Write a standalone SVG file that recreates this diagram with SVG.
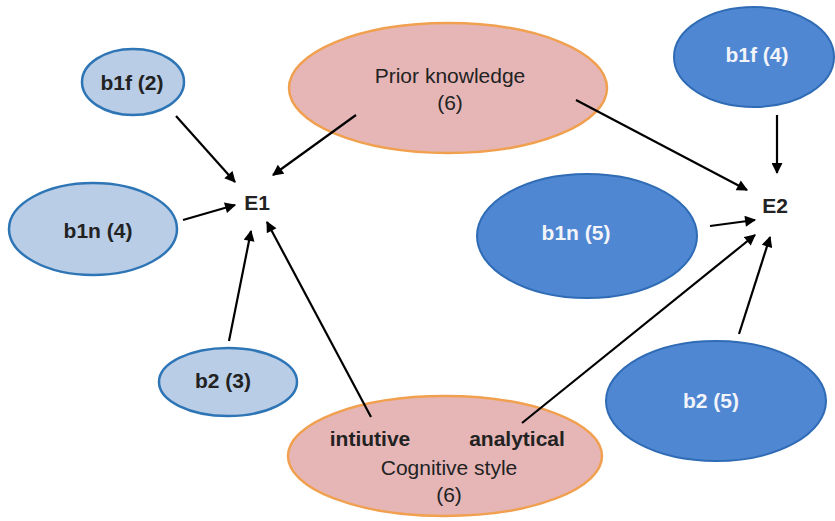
<svg xmlns="http://www.w3.org/2000/svg" width="835" height="521" viewBox="0 0 835 521">
<style>
text{font-family:"Liberation Sans",Arial,sans-serif;font-size:21px;text-anchor:middle}
.b{font-weight:bold}
.light{fill:#b9cde6;stroke:#2e75b6;stroke-width:2.5}
.dark{fill:#4f87d3;stroke:#2f6cb5;stroke-width:2}
.pink{fill:#e6b6b7;stroke:#f0a04e;stroke-width:2.5}
.wt{fill:#f2f4fa}
.dt{fill:#222}
.c line{stroke:#000;stroke-width:2.2;marker-end:url(#ah)}
</style>
<defs>
<marker id="ah" viewBox="0 0 10 10" refX="9" refY="5" markerWidth="5.5" markerHeight="5" orient="auto" markerUnits="strokeWidth">
<path d="M0,0 L10,5 L0,10 z" fill="#000"/>
</marker>
</defs>
<rect width="835" height="521" fill="#fff"/>
<g id="prior"><ellipse class="pink" cx="448" cy="88" rx="159" ry="65"/><text class="dt" x="450" y="83">Prior knowledge</text><text class="dt" x="450" y="110">(6)</text></g>
<g id="cog"><ellipse class="pink" cx="445" cy="456" rx="157" ry="60"/><text class="b dt" x="370" y="446">intiutive</text><text class="b dt" x="517" y="446">analytical</text><text class="dt" x="449" y="475">Cognitive style</text><text class="dt" x="449" y="502">(6)</text></g>
<g id="b1f2"><ellipse class="light" cx="133" cy="82" rx="51" ry="33"/><text class="b dt" x="132" y="90">b1f (2)</text></g>
<g id="b1n4"><ellipse class="light" cx="93" cy="229" rx="84" ry="46"/><text class="b dt" x="98" y="238">b1n (4)</text></g>
<g id="b23"><ellipse class="light" cx="228" cy="382" rx="69" ry="34"/><text class="b dt" x="223" y="388">b2 (3)</text></g>
<g id="e1"><text class="b dt" x="257" y="210">E1</text></g>
<g id="b1f4"><ellipse class="dark" cx="754" cy="57" rx="80" ry="50"/><text class="b wt" x="757" y="62">b1f (4)</text></g>
<g id="b1n5"><ellipse class="dark" cx="587" cy="236" rx="110" ry="62"/><text class="b wt" x="576" y="240">b1n (5)</text></g>
<g id="b25"><ellipse class="dark" cx="716" cy="401" rx="110" ry="60"/><text class="b wt" x="711" y="408">b2 (5)</text></g>
<g id="e2"><text class="b dt" x="775" y="213">E2</text></g>
<g class="c" id="connectors">
<line x1="176" y1="116" x2="235" y2="182"/>
<line x1="356" y1="115" x2="273" y2="175"/>
<line x1="183" y1="220" x2="235" y2="205"/>
<line x1="229" y1="341" x2="251" y2="231"/>
<line x1="371" y1="417" x2="267" y2="222"/>
<line x1="576" y1="100" x2="747" y2="190"/>
<line x1="777" y1="115" x2="777" y2="173"/>
<line x1="710" y1="226" x2="755" y2="220"/>
<line x1="522" y1="423" x2="755" y2="235"/>
<line x1="739" y1="334" x2="770" y2="237"/>
</g>
</svg>
